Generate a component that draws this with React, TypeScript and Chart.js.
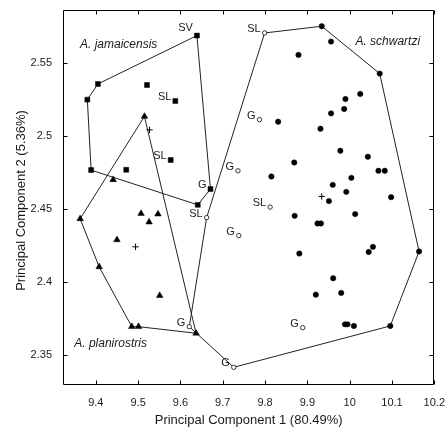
import React, { useEffect, useRef } from "react";
import { Chart, registerables } from "chart.js";

Chart.register(...registerables);

// ---------- data ----------
const xTickValues = [9.4, 9.5, 9.6, 9.7, 9.8, 9.9, 10, 10.1, 10.2];
const yTickValues = [2.35, 2.4, 2.45, 2.5, 2.55];

// A. jamaicensis (filled squares)
const jamaicensisX = [9.639, 9.405, 9.38, 9.389, 9.521, 9.588, 9.577, 9.472, 9.671, 9.641];
const jamaicensisY = [2.5685, 2.5354, 2.5247, 2.4765, 2.5347, 2.5238, 2.4834, 2.4767, 2.4635, 2.4527];
const jamaicensisLabels = ["SV", "", "", "", "", "SL", "SL", "", "G", ""];
const jamaicensisHull = [0, 8, 9, 3, 2, 1, 0];

// A. planirostris (filled triangles)
const planirostrisX = [9.515, 9.441, 9.363, 9.408, 9.485, 9.501, 9.637, 9.507, 9.547, 9.526, 9.45, 9.551];
const planirostrisY = [2.5132, 2.4699, 2.4432, 2.4103, 2.3694, 2.3694, 2.3649, 2.4468, 2.4464, 2.4409, 2.4288, 2.3906];
const planirostrisHull = [0, 6, 5, 4, 3, 2, 0];

// A. schwartzi (filled circles)
const schwartziX = [
  9.934, 9.956, 9.879, 10.071, 10.025, 9.99, 9.987, 9.956, 9.831, 9.931, 9.978, 10.043,
  9.869, 10.068, 10.083, 9.815, 9.96, 10.004, 9.992, 9.951, 10.098, 10.013, 9.87, 9.924,
  9.932, 9.881, 10.045, 10.055, 10.164, 9.961, 9.92, 9.98, 9.989, 9.995, 10.01, 10.096,
];
const schwartziY = [
  2.5749, 2.5644, 2.5553, 2.5425, 2.5286, 2.5251, 2.5183, 2.5153, 2.5096, 2.5048, 2.4897, 2.4856,
  2.4817, 2.476, 2.476, 2.4721, 2.4664, 2.4712, 2.4616, 2.4553, 2.458, 2.4464, 2.4452, 2.44,
  2.44, 2.4194, 2.4205, 2.424, 2.4208, 2.4025, 2.3913, 2.3925, 2.371, 2.371, 2.3699, 2.3699,
];

// open circles (labelled localities)
const openX = [9.799, 9.787, 9.736, 9.738, 9.662, 9.812, 9.621, 9.726, 9.889];
const openY = [2.5703, 2.511, 2.476, 2.4317, 2.444, 2.4512, 2.3694, 2.3416, 2.3687];
const openLabels = ["SL", "G", "G", "G", "SL", "SL", "G", "G", "G"];

// schwartzi hull: "o" = open circle index, "s" = schwartzi index
const schwartziHull: [string, number][] = [
  ["o", 0], ["s", 0], ["s", 3], ["s", 28], ["s", 35], ["o", 7], ["o", 6], ["o", 4], ["o", 0],
];

// group centroids (+)
const centroidX = [9.527, 9.494, 9.934];
const centroidY = [2.504, 2.424, 2.4585];

// species names
const speciesNames = ["A. jamaicensis", "A. planirostris", "A. schwartzi"];
const speciesNameX = [9.454, 9.435, 10.09];
const speciesNameY = [2.5623, 2.358, 2.5644];

const xTitle = "Principal Component 1 (80.49%)";
const yTitle = "Principal Component 2 (5.36%)";

// ---------- helpers ----------
const FONT = "'Liberation Sans', Arial, Helvetica, sans-serif";
const INK = "#1a1a1a";

const pts = (xs: number[], ys: number[]) => xs.map((x, i) => ({ x, y: ys[i] }));
const hullPts = (xs: number[], ys: number[], idx: number[]) => idx.map((i) => ({ x: xs[i], y: ys[i] }));

const fmt = (v: number) => {
  const r = Math.round(v * 100) / 100;
  return String(r);
};

const framePlugin = {
  id: "frame",
  afterDraw(chart: any) {
    const { ctx, chartArea, scales } = chart;
    const { left, right, top, bottom } = chartArea;
    ctx.save();
    ctx.strokeStyle = "#000";
    ctx.lineWidth = 1;
    const L = Math.round(left) + 0.5;
    const R = Math.round(right) - 0.5;
    const T = Math.round(top) + 0.5;
    const B = Math.round(bottom) - 0.5;
    ctx.beginPath();
    ctx.rect(L, T, R - L, B - T);
    ctx.stroke();
    const tl = 4;
    ctx.beginPath();
    xTickValues.forEach((v) => {
      const px = Math.round(scales.x.getPixelForValue(v)) + 0.5;
      ctx.moveTo(px, B);
      ctx.lineTo(px, B - tl);
      ctx.moveTo(px, T);
      ctx.lineTo(px, T + tl);
    });
    yTickValues.forEach((v) => {
      const py = Math.round(scales.y.getPixelForValue(v)) + 0.5;
      ctx.moveTo(L, py);
      ctx.lineTo(L + tl, py);
      ctx.moveTo(R, py);
      ctx.lineTo(R - tl, py);
    });
    ctx.stroke();

    // axis titles
    ctx.fillStyle = INK;
    ctx.font = `13px ${FONT}`;
    ctx.textAlign = "center";
    ctx.textBaseline = "middle";
    ctx.fillText(xTitle, (left + right) / 2, bottom + 35);
    ctx.translate(left - 42, (top + bottom) / 2 + 3);
    ctx.rotate(-Math.PI / 2);
    ctx.fillText(yTitle, 0, 0);
    ctx.restore();
  },
};

const labelPlugin = {
  id: "labels",
  afterDatasetsDraw(chart: any) {
    const { ctx, scales } = chart;
    ctx.save();
    ctx.fillStyle = INK;
    ctx.font = `11px ${FONT}`;
    ctx.textAlign = "right";
    ctx.textBaseline = "middle";
    const drawLab = (x: number, y: number, t: string) => {
      if (!t) return;
      const px = scales.x.getPixelForValue(x);
      const py = scales.y.getPixelForValue(y);
      const dy = t === "SV" ? -8 : -4;
      ctx.fillText(t, px - 4, py + dy);
    };
    jamaicensisLabels.forEach((t, i) => drawLab(jamaicensisX[i], jamaicensisY[i], t));
    openLabels.forEach((t, i) => drawLab(openX[i], openY[i], t));

    ctx.font = `italic 12px ${FONT}`;
    ctx.textAlign = "center";
    speciesNames.forEach((t, i) => {
      ctx.fillText(t, scales.x.getPixelForValue(speciesNameX[i]), scales.y.getPixelForValue(speciesNameY[i]));
    });
    ctx.restore();
  },
};

export default function App() {
  const ref = useRef<HTMLCanvasElement | null>(null);

  useEffect(() => {
    if (!ref.current) return;
    const hullStyle = {
      showLine: true,
      pointRadius: 0,
      pointHoverRadius: 0,
      borderColor: "#222",
      borderWidth: 1,
      fill: false,
      tension: 0,
    };
    const chart = new Chart(ref.current, {
      type: "scatter",
      data: {
        datasets: [
          {
            label: "centroids",
            data: pts(centroidX, centroidY),
            pointStyle: "cross",
            pointRadius: 3.2,
            borderColor: "#000",
            borderWidth: 1,
            backgroundColor: "#000",
          },
          {
            label: "open",
            data: pts(openX, openY),
            pointStyle: "circle",
            pointRadius: 2.2,
            borderColor: "#222",
            borderWidth: 0.9,
            backgroundColor: "#fff",
          },
          {
            label: "A. jamaicensis",
            data: pts(jamaicensisX, jamaicensisY),
            pointStyle: "rect",
            pointRadius: 3.5,
            borderWidth: 0.5,
            borderColor: "#000",
            backgroundColor: "#000",
          },
          {
            label: "A. planirostris",
            data: pts(planirostrisX, planirostrisY),
            pointStyle: "triangle",
            pointRadius: 3.8,
            borderWidth: 0.5,
            borderColor: "#000",
            backgroundColor: "#000",
          },
          {
            label: "A. schwartzi",
            data: pts(schwartziX, schwartziY),
            pointStyle: "circle",
            pointRadius: 2.7,
            borderWidth: 0.5,
            borderColor: "#000",
            backgroundColor: "#000",
          },
          { label: "hull j", data: hullPts(jamaicensisX, jamaicensisY, jamaicensisHull), ...hullStyle },
          { label: "hull p", data: hullPts(planirostrisX, planirostrisY, planirostrisHull), ...hullStyle },
          {
            label: "hull s",
            data: schwartziHull.map(([g, i]) =>
              g === "o" ? { x: openX[i], y: openY[i] } : { x: schwartziX[i], y: schwartziY[i] }
            ),
            ...hullStyle,
          },
        ],
      },
      options: {
        animation: false,
        responsive: false,
        maintainAspectRatio: false,
        events: [],
        layout: { padding: { top: 10, right: 11, left: 0, bottom: 0 } },
        plugins: { legend: { display: false }, tooltip: { enabled: false }, title: { display: false } },
        scales: {
          x: {
            type: "linear",
            min: 9.3225,
            max: 10.2,
            grid: { display: false },
            border: { display: false },
            afterBuildTicks: (s: any) => {
              s.ticks = xTickValues.map((v) => ({ value: v }));
            },
            afterFit: (s: any) => {
              s.height = 43;
            },
            ticks: {
              autoSkip: false,
              maxRotation: 0,
              padding: 3,
              color: INK,
              font: { family: FONT, size: 11 },
              callback: (v: any) => fmt(Number(v)),
            },
          },
          y: {
            type: "linear",
            min: 2.3295,
            max: 2.586,
            grid: { display: false },
            border: { display: false },
            afterBuildTicks: (s: any) => {
              s.ticks = yTickValues.map((v) => ({ value: v }));
            },
            afterFit: (s: any) => {
              s.width = 63;
            },
            ticks: {
              autoSkip: false,
              padding: 3,
              color: INK,
              font: { family: FONT, size: 11 },
              callback: (v: any) => fmt(Number(v)),
            },
          },
        },
      },
      plugins: [labelPlugin, framePlugin],
    } as any);
    return () => chart.destroy();
  }, []);

  return (
    <div style={{ position: "fixed", left: 0, top: 0, width: 448, height: 428, background: "#fff" }}>
      <canvas ref={ref} width={448} height={428} style={{ width: 448, height: 428, display: "block" }} />
    </div>
  );
}
